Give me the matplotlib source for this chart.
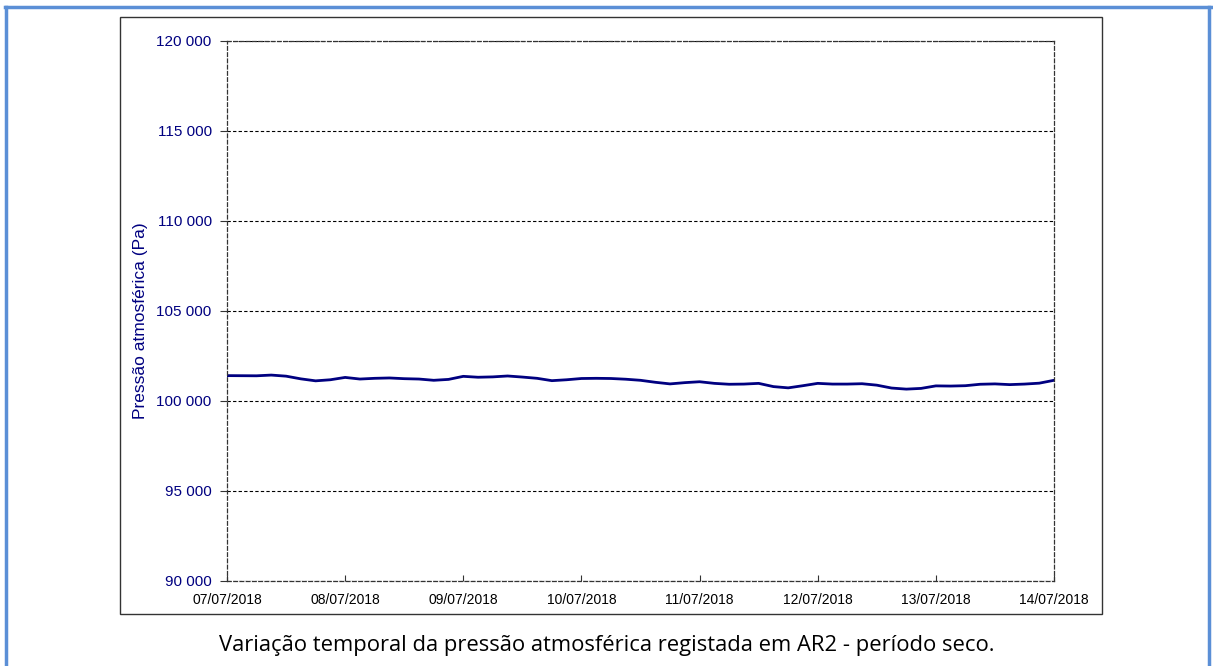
"""Pressão atmosférica em AR2 - período seco (07/07/2018 a 14/07/2018)."""

import numpy as np
import pandas as pd
import matplotlib
matplotlib.use("Agg")
import matplotlib.pyplot as plt
import matplotlib.dates as mdates
from matplotlib.patches import Rectangle
from matplotlib.ticker import FuncFormatter

# leituras a cada 3 horas (Pa), a partir de 07/07/2018 00:00
pressao = [
    101410, 101405, 101400, 101440, 101380, 101230, 101120, 101180,
    101310, 101220, 101260, 101280, 101240, 101220, 101150, 101200,
    101370, 101320, 101340, 101390, 101330, 101260, 101130, 101180,
    101250, 101260, 101250, 101210, 101150, 101040, 100950, 101020,
    101070, 100980, 100930, 100940, 100980, 100800, 100730, 100850,
    100980, 100940, 100940, 100960, 100880, 100720, 100660, 100700,
    100840, 100830, 100850, 100930, 100950, 100910, 100940, 100990,
    101150,
]
tempos = pd.date_range("2018-07-07 00:00", periods=len(pressao), freq="3h")
dias = pd.date_range("2018-07-07", "2018-07-14", freq="D")
y_ticks = [90000, 95000, 100000, 105000, 110000, 115000, 120000]

NAVY = "#000080"
AZUL_BORDA = "#5b8fd6"

fig = plt.figure(figsize=(12.13, 6.66), dpi=100)
W, H = 1213, 666


def fx(px):
    return px / W


def fy(py):
    return 1 - py / H


# moldura azul exterior
for x0, y0, x1, y1 in [(5, 7, 1213, 7), (6, 7, 6, 666), (1209, 7, 1209, 666)]:
    fig.add_artist(plt.Line2D([fx(x0), fx(x1)], [fy(y0), fy(y1)],
                              color=AZUL_BORDA, lw=2.5))

# caixa do gráfico
fig.add_artist(Rectangle((fx(120), fy(614)), fx(1102) - fx(120), fy(17) - fy(614),
                         transform=fig.transFigure, fill=False,
                         ec="#333333", lw=1.0))

ax = fig.add_axes([fx(227), fy(581), fx(1054) - fx(227), fy(41) - fy(581)])
ax.plot(tempos, pressao, color=NAVY, lw=2.0, solid_joinstyle="round")

ax.set_xlim(dias[0], dias[-1])
ax.set_ylim(90000, 120000)
ax.set_yticks(y_ticks)
ax.yaxis.set_major_formatter(FuncFormatter(lambda v, _: f"{int(v):,}".replace(",", " ")))
ax.set_xticks(dias)
ax.xaxis.set_major_formatter(mdates.DateFormatter("%d/%m/%Y"))

ax.grid(axis="y", color="black", ls=(0, (3, 2)), lw=0.8)
for s in ax.spines.values():
    s.set_linestyle((0, (3, 2)))
    s.set_linewidth(0.9)
    s.set_color("#333333")

ax.tick_params(axis="y", colors="#333333", labelcolor=NAVY, labelsize=11,
               length=5, direction="out", pad=6)
ax.tick_params(axis="x", colors="#333333", labelcolor="black", labelsize=10,
               length=4, direction="in", pad=9)
for lbl in ax.get_yticklabels() + ax.get_xticklabels():
    lbl.set_family("Liberation Sans")

fig.text(fx(141), fy(321), "Pressão atmosférica (Pa)", rotation=90,
         ha="center", va="center", color=NAVY, fontsize=12.5,
         family="Liberation Sans")

fig.text(fx(607), fy(645),
         "Variação temporal da pressão atmosférica registada em AR2 - período seco.",
         ha="center", va="center", color="black", fontsize=15.8,
         family="Open Sans")

fig.savefig("out.png", dpi=100)
